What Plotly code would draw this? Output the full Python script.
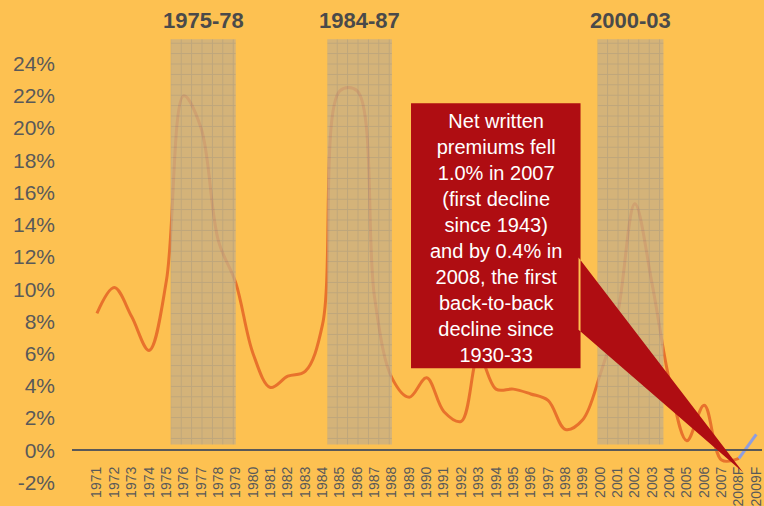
import plotly.graph_objects as go

# ---- data ----
categories = [str(y) for y in range(1971, 2008)] + ["2008F", "2009F"]
years = list(range(1971, 2010))
growth_actual = [8.5, 10.1, 8.3, 6.2, 10.5, 22.0, 20.0, 13.0, 10.4, 6.0,
                 3.9, 4.6, 4.9, 7.8, 22.3, 22.3, 9.5, 4.5, 3.3, 4.5,
                 2.4, 1.8, 5.9, 3.8, 3.8, 3.5, 3.1, 1.3, 1.9, 4.7,
                 8.4, 15.3, 10.3, 4.3, 0.6, 2.8, -0.6, -0.5]
growth_forecast = [-0.5, 1.0]
forecast_years = [2008, 2009]
hard_market_labels = ["1975-78", "1984-87", "2000-03"]
hard_start = [1975.25, 1984.28, 1999.85]
hard_end = [1979.0, 1988.0, 2003.65]
hard_low = 0.37
hard_high = 25.5
y_ticks = list(range(-2, 26, 2))
callout_text = ("Net written<br>premiums fell<br>1.0% in 2007<br>(first decline<br>"
                "since 1943)<br>and by 0.4% in<br>2008, the first<br>back-to-back<br>"
                "decline since<br>1930-33")

# ---- layout geometry ----
W, H = 764, 506
ML, MR, MT, MB = 72, 0, 38, 16
XMIN, XMAX = 1969.563, 2009.33
YMIN, YMAX = -2.147, 25.58
pw, ph = W - ML - MR, H - MT - MB

def px2x(px):
    return XMIN + (px - ML) / pw * (XMAX - XMIN)

def py2y(py):
    return YMAX - (py - MT) / ph * (YMAX - YMIN)

def py2paper(py):
    return (H - MB - py) / ph

BG = "#FDC151"
TXT = "#595959"
FONT = "Liberation Sans, Arial, sans-serif"

fig = go.Figure()

fig.add_trace(go.Scatter(
    x=years[:len(growth_actual)], y=growth_actual, mode="lines",
    line=dict(color="#E8722C", width=3, shape="spline", smoothing=1.0),
    hoverinfo="skip", showlegend=False))
fig.add_trace(go.Scatter(
    x=forecast_years, y=growth_forecast, mode="lines",
    line=dict(color="#8E9DE0", width=3, shape="spline"),
    hoverinfo="skip", showlegend=False))

# shaded hard-market periods
bx, by = [], []
for s, e in zip(hard_start, hard_end):
    bx += [s, e, e, s, s, None]
    by += [hard_low, hard_low, hard_high, hard_high, hard_low, None]
fig.add_trace(go.Scatter(
    x=bx, y=by, mode="lines", fill="toself", line=dict(width=0),
    fillcolor="#C9AF84",
    fillpattern=dict(shape="+", fgcolor="#8F8D8A", bgcolor="#C9AF84",
                     size=10.4, solidity=0.18),
    opacity=0.78, hoverinfo="skip", showlegend=False))

# period labels
for lab, s, e in zip(hard_market_labels, hard_start, hard_end):
    fig.add_annotation(x=(s + e) / 2, y=py2paper(20), xref="x", yref="paper",
                       yanchor="middle", xanchor="center",
                       text="<b>" + lab + "</b>", showarrow=False,
                       font=dict(size=22, color="#4A4A4A", family=FONT))

# callout box with wedge pointer
bx0, bx1, by0, by1 = px2x(412), px2x(582), py2y(104), py2y(372)
path = (f"M{bx0},{by0} L{bx1},{by0} L{bx1},{by1} L{bx0},{by1} Z "
        f"M{px2x(580)},{py2y(260)} L{px2x(745)},{py2y(477)} L{px2x(580)},{py2y(333)} Z")
fig.add_shape(type="path", path=path, xref="x", yref="y",
              fillcolor="#AF0D12", line=dict(width=0), layer="above")
fig.add_annotation(x=(bx0 + bx1) / 2, y=py2y(240), xref="x", yref="y",
                   text=callout_text, showarrow=False, align="center",
                   font=dict(size=20, color="white", family=FONT))

fig.update_layout(
    width=W, height=H, margin=dict(l=ML, r=MR, t=MT, b=MB),
    paper_bgcolor=BG, plot_bgcolor=BG,
    font=dict(family=FONT, color=TXT),
    showlegend=False,
    xaxis=dict(range=[XMIN, XMAX], tickmode="array", tickvals=years,
               ticktext=categories, tickangle=-90,
               tickfont=dict(size=14, color=TXT, family=FONT),
               showgrid=False, zeroline=False, showline=True,
               linecolor="#595959", linewidth=1.5,
               anchor="free", position=(0 - YMIN) / (YMAX - YMIN),
               ticks="", ticklabelstandoff=10, ticklabeloverflow="allow"),
    yaxis=dict(range=[YMIN, YMAX], tickmode="array", tickvals=y_ticks,
               ticktext=[f"{v}%" for v in y_ticks],
               tickfont=dict(size=21, color=TXT, family=FONT),
               showgrid=False, zeroline=False, showline=False,
               ticks="", ticklabelstandoff=16),
)

fig.write_html("out.html")
